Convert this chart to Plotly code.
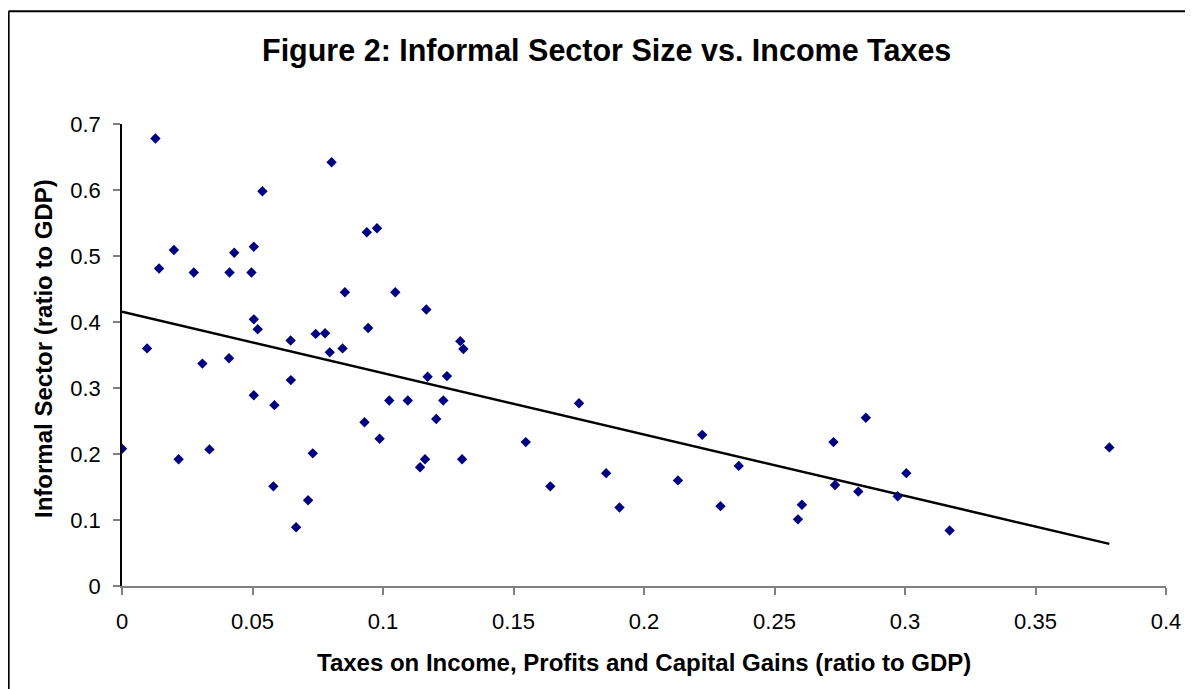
import numpy as np
import plotly.graph_objects as go

# Taxes on income, profits and capital gains (ratio to GDP)
tax_ratio = [
    0.0128, 0.0803, 0.0538, 0.0199, 0.0142, 0.0275, 0.0412, 0.0430, 0.0496, 0.0505,
    0.0938, 0.0977, 0.0854, 0.1047, 0.0505, 0.0520, 0.0096, 0.0646, 0.0742, 0.0778,
    0.0943, 0.0796, 0.0845, 0.0308, 0.0410, 0.0647, 0.0505, 0.0584, 0.1024, 0.0929,
    0.0987, 0.0000, 0.0217, 0.0335, 0.0731, 0.0580, 0.0713, 0.0667, 0.1296, 0.1308,
    0.1171, 0.1245, 0.1095, 0.1231, 0.1204, 0.1161, 0.1142, 0.1303, 0.1547, 0.1751,
    0.1641, 0.1855, 0.1906, 0.2130, 0.1166, 0.2223, 0.2293, 0.2363, 0.2590, 0.2605,
    0.2726, 0.2850, 0.2732, 0.2821, 0.2972, 0.3005, 0.3171, 0.3783,
]
# Informal sector (ratio to GDP)
informal_ratio = [
    0.678, 0.642, 0.598, 0.509, 0.481, 0.475, 0.475, 0.505, 0.475, 0.514,
    0.536, 0.542, 0.445, 0.445, 0.404, 0.389, 0.360, 0.372, 0.382, 0.383,
    0.391, 0.354, 0.360, 0.337, 0.345, 0.312, 0.289, 0.274, 0.281, 0.248,
    0.223, 0.208, 0.192, 0.207, 0.201, 0.151, 0.130, 0.089, 0.371, 0.359,
    0.317, 0.318, 0.281, 0.281, 0.253, 0.192, 0.180, 0.192, 0.218, 0.277,
    0.151, 0.171, 0.119, 0.160, 0.419, 0.229, 0.121, 0.182, 0.101, 0.123,
    0.218, 0.255, 0.153, 0.143, 0.136, 0.171, 0.084, 0.210,
]

x_ticks = [0, 0.05, 0.1, 0.15, 0.2, 0.25, 0.3, 0.35, 0.4]
x_tick_labels = ["0", "0.05", "0.1", "0.15", "0.2", "0.25", "0.3", "0.35", "0.4"]
y_ticks = [0, 0.1, 0.2, 0.3, 0.4, 0.5, 0.6, 0.7]
y_tick_labels = ["0", "0.1", "0.2", "0.3", "0.4", "0.5", "0.6", "0.7"]

title_text = "Figure 2: Informal Sector Size vs. Income Taxes"
x_title = "Taxes on Income, Profits and Capital Gains (ratio to GDP)"
y_title = "Informal Sector (ratio to GDP)"

xa = np.array(tax_ratio)
ya = np.array(informal_ratio)
slope, intercept = np.polyfit(xa, ya, 1)
trend_x = [0.0, float(xa.max())]
trend_y = [intercept + slope * v for v in trend_x]

# page body has an 8px default margin
OFF = 8
PAGE_W, PAGE_H = 1193, 689
W, H = PAGE_W - OFF, PAGE_H - OFF
# plot area in page pixels
PL, PR, PT, PB = 122.3, 1165.7, 123.7, 585.7
L, T = PL - OFF, PT - OFF
R = W - (PR - OFF)
B = H - (PB - OFF)
pw, ph = PR - PL, PB - PT

def px_to_paper_x(px):
    return (px - PL) / pw

def px_to_paper_y(py):
    return (PB - py) / ph

font_family = "Liberation Sans, Arial, sans-serif"

fig = go.Figure()
fig.add_trace(go.Scatter(
    x=trend_x, y=trend_y, mode="lines",
    line=dict(color="black", width=2.5),
    hoverinfo="skip", showlegend=False,
))
fig.add_trace(go.Scatter(
    x=tax_ratio, y=informal_ratio, mode="markers",
    marker=dict(symbol="diamond", color="#000080", size=8, line=dict(width=0)),
    showlegend=False,
))

border = dict(color="black", width=2)
fig.update_layout(
    width=W, height=H,
    margin=dict(l=L, r=R, t=T, b=B, pad=0),
    paper_bgcolor="white", plot_bgcolor="white",
    font=dict(family=font_family, color="black", size=18),
    xaxis=dict(
        range=[0, 0.4], tickmode="array", tickvals=x_ticks, ticktext=x_tick_labels,
        showgrid=False, zeroline=False, showline=True, linecolor="#808080", linewidth=2,
        ticks="outside", ticklen=7, tickwidth=2, tickcolor="#808080",
        ticklabelstandoff=8,
        tickfont=dict(size=22, color="black"), fixedrange=True,
    ),
    yaxis=dict(
        range=[0, 0.7], tickmode="array", tickvals=y_ticks, ticktext=y_tick_labels,
        showgrid=False, zeroline=False, showline=True, linecolor="black", linewidth=1.5,
        ticks="outside", ticklen=7, tickwidth=2, tickcolor="#808080",
        ticklabelstandoff=8,
        tickfont=dict(size=22, color="black"), fixedrange=True,
    ),
    annotations=[
        dict(text="<b>%s</b>" % title_text, xref="paper", yref="paper",
             x=px_to_paper_x(607), y=px_to_paper_y(50), xanchor="center", yanchor="middle",
             showarrow=False, font=dict(size=30.5, family=font_family)),
        dict(text="<b>%s</b>" % x_title, xref="paper", yref="paper",
             x=px_to_paper_x(644), y=px_to_paper_y(662), xanchor="center", yanchor="middle",
             showarrow=False, font=dict(size=24, family=font_family)),
        dict(text="<b>%s</b>" % y_title, xref="paper", yref="paper",
             x=px_to_paper_x(44), y=px_to_paper_y(348), xanchor="center", yanchor="middle",
             textangle=-90, showarrow=False, font=dict(size=24, family=font_family)),
    ],
    shapes=[
        dict(type="line", xref="paper", yref="paper",
             x0=px_to_paper_x(9), x1=px_to_paper_x(1200),
             y0=px_to_paper_y(11), y1=px_to_paper_y(11), line=border, layer="below"),
        dict(type="line", xref="paper", yref="paper",
             x0=px_to_paper_x(9), x1=px_to_paper_x(9),
             y0=px_to_paper_y(11), y1=px_to_paper_y(700), line=border, layer="below"),
    ],
)

fig.write_html("out.html", config={"displayModeBar": False})
